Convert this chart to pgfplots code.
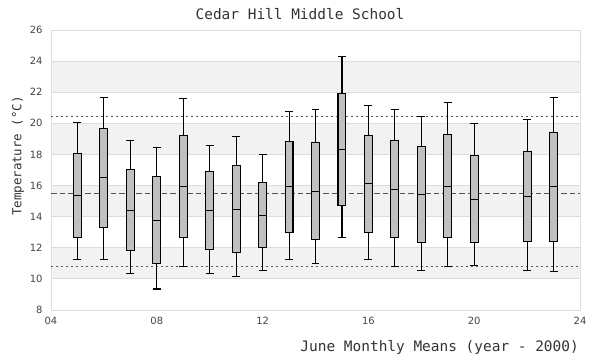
\documentclass[border=0pt]{standalone}
\usepackage{pgfplots}
\pgfplotsset{compat=1.18}
\usepgfplotslibrary{statistics}
\usepackage{fontspec}
\setmainfont{DejaVu Sans}
\newfontfamily\monofont{DejaVu Sans Mono}
\definecolor{boxgray}{HTML}{C0C0C0}
\definecolor{bandgray}{HTML}{F2F2F2}
\definecolor{gridgray}{HTML}{DDDDDD}
\definecolor{refgray}{HTML}{555555}
\definecolor{txtgray}{HTML}{444444}
\definecolor{lblgray}{HTML}{333333}
\pgfplotsset{
  mybox/.style={draw=black, fill=boxgray, solid, line width=1.1bp},
  band/.style={draw=none, fill=bandgray, on layer=axis background},
}
\newcommand{\bx}[6]{%
  \addplot[mybox, boxplot prepared={draw position=#1, lower whisker=#2, lower quartile=#3, median=#4, upper quartile=#5, upper whisker=#6, box extend=0.3, whisker extend=0.3}] coordinates {};
}
\begin{document}
\begin{tikzpicture}
\begin{axis}[
  set layers,
  scale only axis,
  width=529bp, height=280bp,
  xmin=4, xmax=24, ymin=8, ymax=26,
  boxplot/draw direction=y,
  xtick={4,8,12,16,20,24},
  xticklabels={04,08,12,16,20,24},
  ytick={8,10,...,26},
  major tick length=0pt,
  ymajorgrids,
  grid style={draw=gridgray, line width=0.8bp},
  axis line style={draw=gridgray, line width=0.9bp},
  /pgf/number format/assume math mode=true,
  tick label style={font=\fontsize{10}{12}\selectfont, text=txtgray},
  yticklabel style={xshift=-5bp},
  xticklabel style={yshift=-4bp},
  clip=false,
]
\addplot[band] coordinates {(4,10) (24,10) (24,12) (4,12)};
\addplot[band] coordinates {(4,14) (24,14) (24,16) (4,16)};
\addplot[band] coordinates {(4,18) (24,18) (24,20) (4,20)};
\addplot[band] coordinates {(4,22) (24,22) (24,24) (4,24)};
\addplot[refgray, line width=0.9bp, dash pattern=on 1.8bp off 3.2bp] coordinates {(4,20.45) (24,20.45)};
\addplot[refgray, line width=0.9bp, dash pattern=on 1.8bp off 3.2bp] coordinates {(4,10.77) (24,10.77)};
\addplot[refgray, line width=0.9bp, dash pattern=on 5.5bp off 3bp] coordinates {(4,15.48) (24,15.48)};
% year, lower whisker, Q1, median, Q3, upper whisker
\bx{5}{11.23}{12.65}{15.35}{18.06}{20.06}
\bx{6}{11.23}{13.29}{16.52}{19.68}{21.68}
\bx{7}{10.32}{11.81}{14.39}{17.03}{18.90}
\bx{8}{9.35}{10.97}{13.74}{16.58}{18.45}
\bx{9}{10.77}{12.65}{15.94}{19.23}{21.61}
\bx{10}{10.32}{11.87}{14.39}{16.90}{18.58}
\bx{11}{10.13}{11.68}{14.45}{17.29}{19.16}
\bx{12}{10.52}{12.00}{14.06}{16.19}{18.00}
\bx{13}{11.23}{12.97}{15.94}{18.84}{20.77}
\bx{14}{10.97}{12.52}{15.61}{18.77}{20.90}
\bx{15}{12.65}{14.71}{18.32}{21.94}{24.32}
\bx{16}{11.23}{12.97}{16.13}{19.23}{21.16}
\bx{17}{10.77}{12.65}{15.74}{18.90}{20.90}
\bx{18}{10.52}{12.32}{15.42}{18.52}{20.45}
\bx{19}{10.77}{12.65}{15.94}{19.29}{21.35}
\bx{20}{10.84}{12.32}{15.10}{17.94}{20.00}
\bx{22}{10.52}{12.39}{15.29}{18.19}{20.26}
\bx{23}{10.45}{12.39}{15.94}{19.42}{21.68}
\end{axis}
\node[font=\monofont\fontsize{14.5}{16}\selectfont, text=lblgray] at (249bp,296bp) {Cedar Hill Middle School};
\node[font=\monofont\fontsize{14.5}{16}\selectfont, text=lblgray, anchor=east, inner sep=0pt] at (528bp,-37bp) {June Monthly Means (year - 2000)};
\node[font=\monofont\fontsize{12.5}{14}\selectfont, text=lblgray, rotate=90, inner sep=0pt] at (-33bp,154bp) {Temperature (°C)};
\pgfresetboundingbox
\useasboundingbox (-51bp,-50bp) rectangle (549bp,310bp);
\end{tikzpicture}
\end{document}
